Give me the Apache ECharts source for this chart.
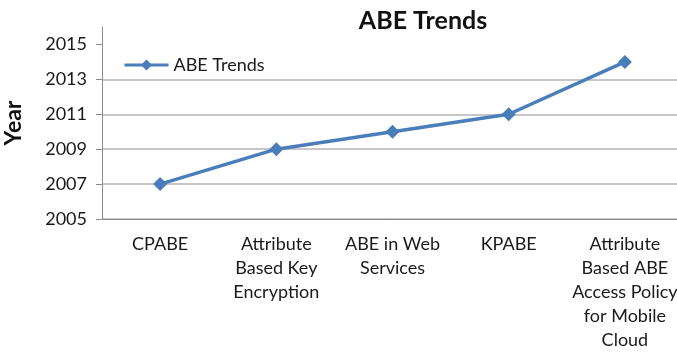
<!DOCTYPE html>
<html>
<head>
<meta charset="utf-8">
<script src="https://cdn.jsdelivr.net/npm/echarts@6/dist/echarts.min.js"></script>
<style>
  html, body { margin: 0; padding: 0; background: #fff; }
  #chart { width: 677px; height: 353px; }
</style>
</head>
<body>
<div id="chart"></div>
<script>
// Schemes and the year each appeared
const categories = [
  'CPABE',
  'Attribute\nBased Key\nEncryption',
  'ABE in Web\nServices',
  'KPABE',
  'Attribute\nBased ABE\nAccess Policy\nfor Mobile\nCloud'
];
const years = [2007, 2009, 2010, 2011, 2014];
const yearTicks = [2005, 2007, 2009, 2011, 2013, 2015];

const FONT = 'Lato, "Open Sans", sans-serif';
const BLUE = '#4a7ebb';

const chart = echarts.init(document.getElementById('chart'));
chart.setOption({
  animation: false,
  backgroundColor: '#fff',
  title: {
    text: 'ABE Trends',
    left: 418,
    top: 3,
    textAlign: 'center',
    textStyle: { fontFamily: FONT, fontWeight: 'bold', fontSize: 25, color: '#111' }
  },
  legend: {
    left: 118,
    top: 51,
    itemWidth: 44,
    itemHeight: 14,
    itemGap: 4,
    lineStyle: { width: 3 },
    textStyle: { fontFamily: FONT, fontSize: 18, color: '#1a1a1a' },
    data: ['ABE Trends']
  },
  grid: { left: 102, right: -6, top: 27, bottom: 134, outerBoundsMode: 'none', containLabel: false },
  xAxis: {
    type: 'category',
    data: categories,
    boundaryGap: true,
    axisLine: { lineStyle: { color: '#8c8c8c', width: 1 } },
    axisTick: { show: false },
    axisLabel: {
      interval: 0,
      margin: 13,
      fontFamily: FONT,
      fontSize: 18,
      lineHeight: 24,
      color: '#1a1a1a',
      align: 'center'
    }
  },
  yAxis: {
    type: 'value',
    min: 2005,
    max: 2016,
    interval: 2,
    name: 'Year',
    nameLocation: 'middle',
    nameRotate: 90,
    nameGap: 77,
    nameTextStyle: { fontFamily: FONT, fontWeight: 'bold', fontSize: 23, color: '#111' },
    axisLine: { show: true, lineStyle: { color: '#8c8c8c', width: 1 } },
    axisTick: { show: true, length: 6, lineStyle: { color: '#8c8c8c' }, customValues: yearTicks },
    axisLabel: {
      margin: 15,
      fontFamily: FONT,
      fontSize: 18,
      color: '#1a1a1a',
      customValues: yearTicks,
      formatter: v => String(v)
    },
    splitLine: { show: true, showMaxLine: false, lineStyle: { color: '#b4b4b4', width: 1.5 } }
  },
  series: [{
    name: 'ABE Trends',
    type: 'line',
    data: years,
    symbol: 'diamond',
    symbolSize: 14,
    itemStyle: { color: BLUE },
    lineStyle: { color: BLUE, width: 3.5 }
  }]
});
</script>
</body>
</html>
